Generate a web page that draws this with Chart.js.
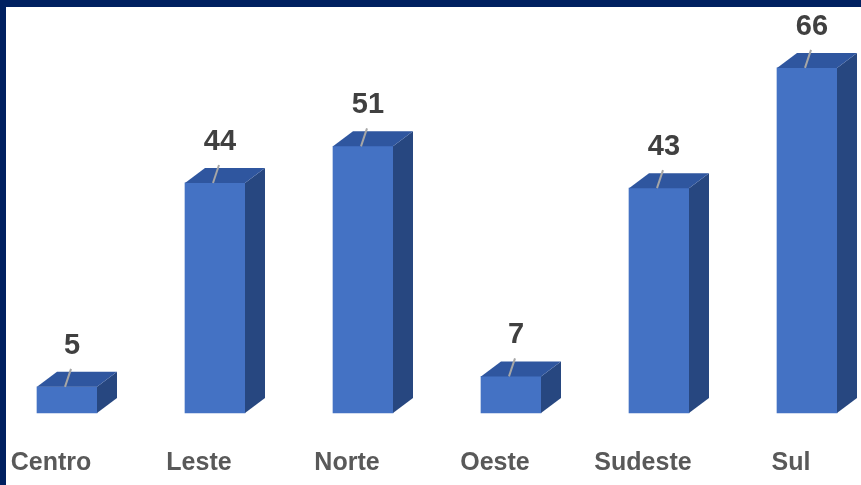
<!DOCTYPE html>
<html>
<head>
<meta charset="utf-8">
<script src="https://cdn.jsdelivr.net/npm/chart.js@4"></script>
<style>
    html, body { margin: 0; padding: 0; }
    body { width: 861px; height: 485px; background: #002060; position: relative; overflow: hidden; }
    #wrap { position: absolute; left: 6px; top: 7px; width: 855px; height: 478px; background: #fff; }
</style>
</head>
<body>
<div id="wrap"><canvas id="regionChart" width="855" height="478"></canvas></div>
<script>
const regions = ['Centro', 'Leste', 'Norte', 'Oeste', 'Sudeste', 'Sul'];
const counts = [5, 44, 51, 7, 43, 66];
const yMax = 70;

const frontColor = '#4472C4';
const topColor = '#2F569F';
const sideColor = '#274780';
const depthX = 20;
const depthY = 15;

// 3D faces, leader lines and value labels on top of the plain bars
const bar3d = {
    id: 'bar3d',
    afterDatasetsDraw(chart) {
        const ctx = chart.ctx;
        const meta = chart.getDatasetMeta(0);
        ctx.save();
        meta.data.forEach((bar, i) => {
            const left = bar.x - bar.width / 2;
            const right = bar.x + bar.width / 2;
            const top = bar.y;
            const bottom = bar.base;

            // side face
            ctx.fillStyle = sideColor;
            ctx.beginPath();
            ctx.moveTo(right, top);
            ctx.lineTo(right + depthX, top - depthY);
            ctx.lineTo(right + depthX, bottom - depthY);
            ctx.lineTo(right, bottom);
            ctx.closePath();
            ctx.fill();

            // top face
            ctx.fillStyle = topColor;
            ctx.beginPath();
            ctx.moveTo(left, top);
            ctx.lineTo(left + depthX, top - depthY);
            ctx.lineTo(right + depthX, top - depthY);
            ctx.lineTo(right, top);
            ctx.closePath();
            ctx.fill();

            // leader line
            ctx.strokeStyle = '#A6A6A6';
            ctx.lineWidth = 2;
            ctx.beginPath();
            ctx.moveTo(bar.x - 2, top);
            ctx.lineTo(bar.x + 4, top - 18);
            ctx.stroke();

            // value label
            ctx.fillStyle = '#404040';
            ctx.font = 'bold 29px "Liberation Sans", Arial, sans-serif';
            ctx.textAlign = 'center';
            ctx.textBaseline = 'alphabetic';
            ctx.fillText(String(counts[i]), bar.x + 5, top - 33);
        });
        ctx.restore();
    }
};

new Chart(document.getElementById('regionChart'), {
    type: 'bar',
    data: {
        labels: regions,
        datasets: [{
            data: counts,
            backgroundColor: frontColor,
            borderWidth: 0,
            barThickness: 60,
            clip: false
        }]
    },
    options: {
        responsive: false,
        animation: false,
        devicePixelRatio: 1,
        layout: { padding: { top: 40, left: 61, right: 54, bottom: 0 } },
        plugins: {
            legend: { display: false },
            tooltip: { enabled: false }
        },
        scales: {
            x: {
                offset: false,
                grid: { display: false, drawTicks: true, tickLength: 32, color: 'rgba(0,0,0,0)' },
                border: { display: false },
                ticks: {
                    color: '#595959',
                    font: { family: '"Liberation Sans", Arial, sans-serif', size: 25, weight: 'bold' },
                    labelOffset: -16,
                    padding: 3,
                    maxRotation: 0,
                    autoSkip: false
                },
                afterFit: scale => { scale.height = 72; }
            },
            y: {
                display: false,
                min: 0,
                max: yMax
            }
        }
    },
    plugins: [bar3d]
});
</script>
</body>
</html>
